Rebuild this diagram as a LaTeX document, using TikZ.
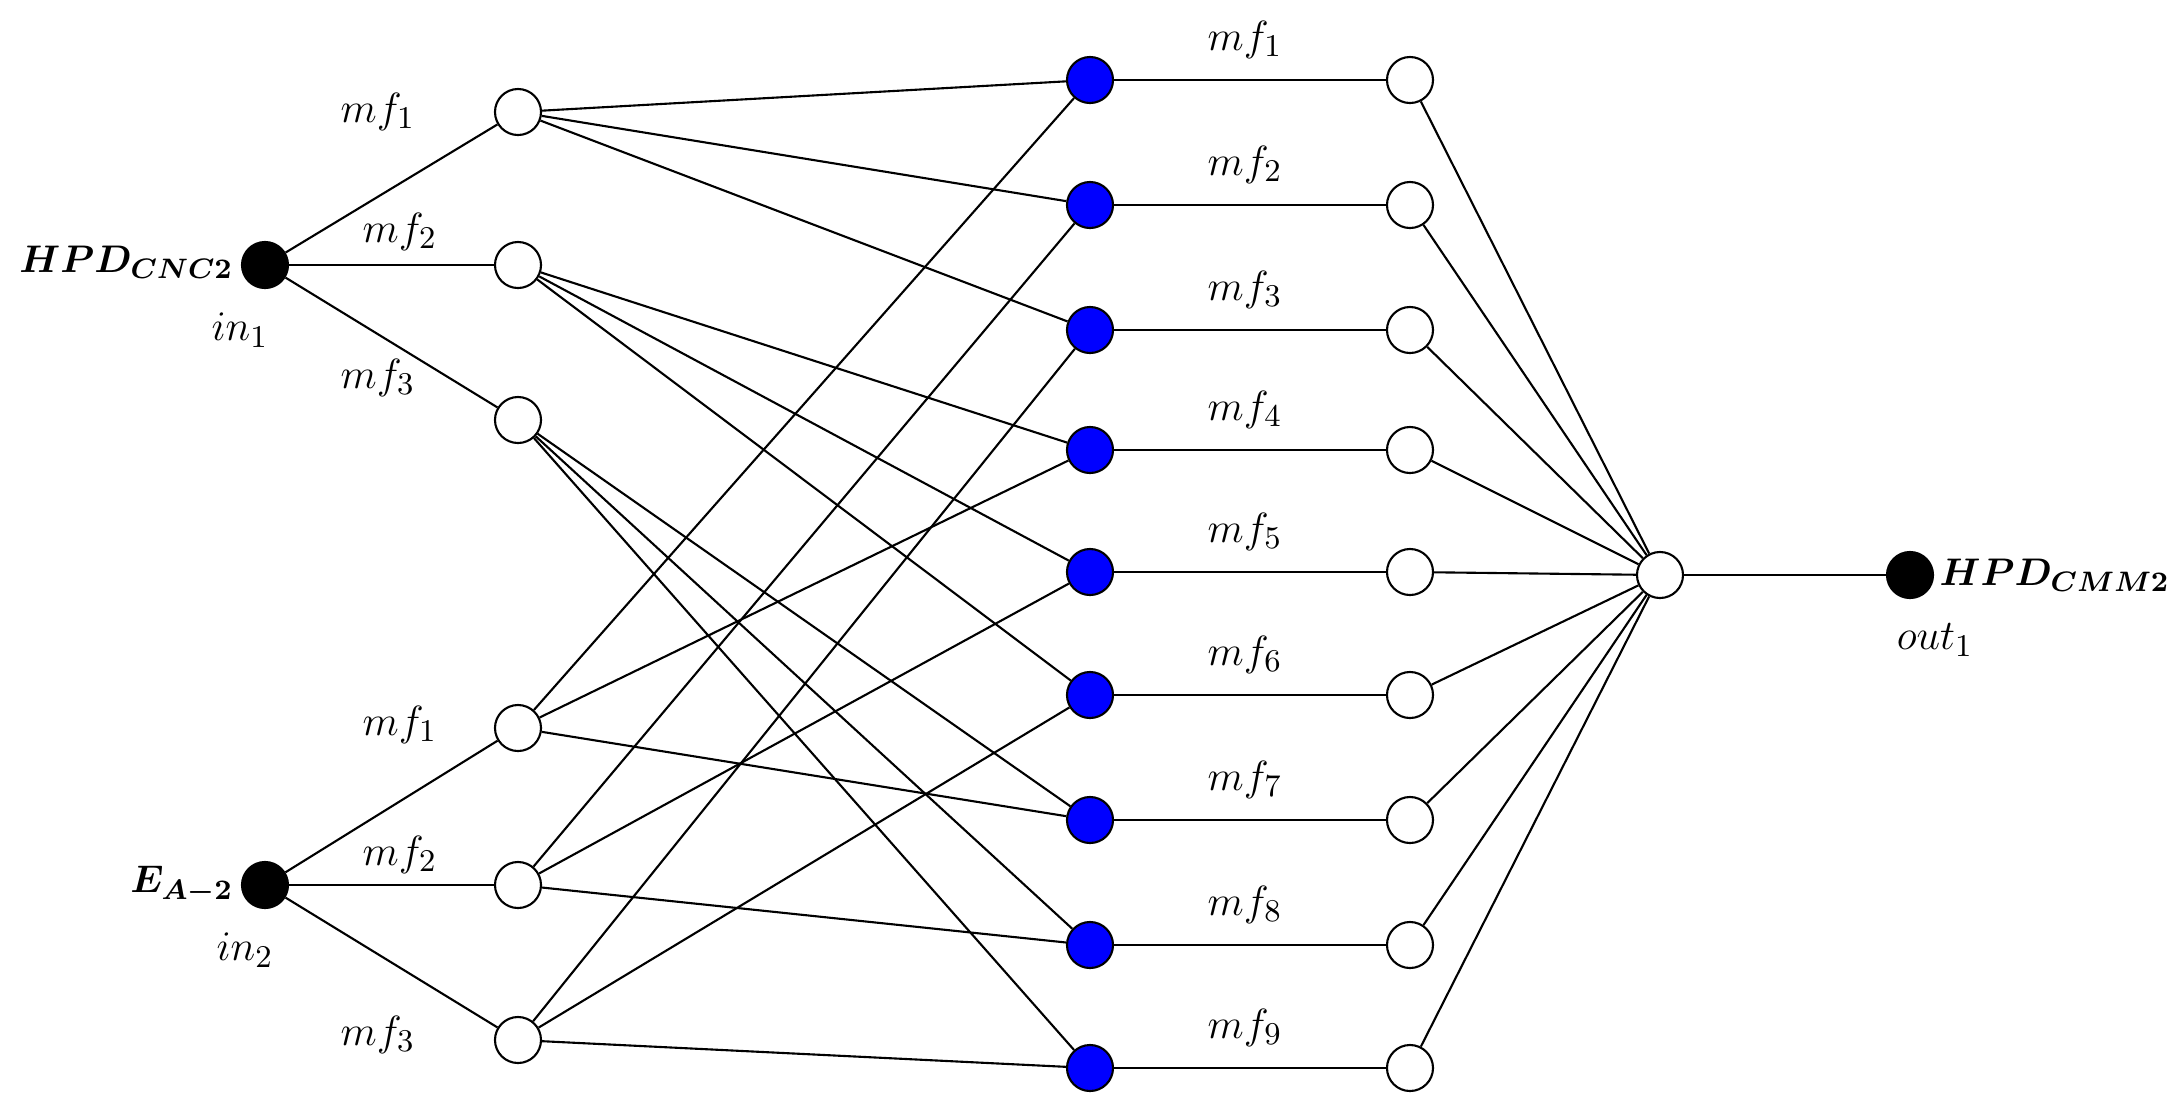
\documentclass[tikz,border=0pt]{standalone}
\usepackage{bm}
\begin{document}
\begin{tikzpicture}[x=0.01cm,y=-0.01cm,
  wn/.style={circle,draw,fill=white,minimum size=0.46cm,inner sep=0pt},
  bn/.style={circle,draw,fill=blue,minimum size=0.46cm,inner sep=0pt},
  kn/.style={circle,draw,fill=black,minimum size=0.46cm,inner sep=0pt},
  lb/.style={font=\fontsize{13}{15}\selectfont},
  bl/.style={font=\fontsize{11}{13}\selectfont,inner sep=1pt},
  every path/.style={line width=0.6pt}]
\useasboundingbox (0,0) rectangle (2181,1105);
\node[kn] (in1) at (265,265) {};
\node[kn] (in2) at (265,885) {};
\node[wn] (a1) at (518,112) {};
\node[wn] (a2) at (518,265) {};
\node[wn] (a3) at (518,420) {};
\node[wn] (b1) at (518,728) {};
\node[wn] (b2) at (518,885) {};
\node[wn] (b3) at (518,1040) {};
\foreach \k/\y in {1/80,2/205,3/330,4/450,5/572,6/695,7/820,8/945,9/1068}{
  \node[bn] (r\k) at (1090,\y) {};
  \node[wn] (w\k) at (1410,\y) {};
  \node[lb] (l\k) at (1245,\y-40) {$mf_{\k}$};
}
\node[wn] (s) at (1660,575) {};
\node[kn] (out) at (1910,575) {};
\foreach \a in {1,2,3}{\draw (in1)--(a\a); \draw (in2)--(b\a);}
\draw (a1)--(r1) (a1)--(r2) (a1)--(r3);
\draw (a2)--(r4) (a2)--(r5) (a2)--(r6);
\draw (a3)--(r7) (a3)--(r8) (a3)--(r9);
\draw (b1)--(r1) (b1)--(r4) (b1)--(r7);
\draw (b2)--(r2) (b2)--(r5) (b2)--(r8);
\draw (b3)--(r3) (b3)--(r6) (b3)--(r9);
\foreach \k in {1,...,9}{\draw (r\k)--(w\k); \draw (w\k)--(s);}
\draw (s)--(out);
\node[lb] (t1) at (378,112) {$mf_1$};
\node[lb] (t2) at (400,232) {$mf_2$};
\node[lb] (t3) at (378,378) {$mf_3$};
\node[lb] (t4) at (400,725) {$mf_1$};
\node[lb] (t5) at (400,855) {$mf_2$};
\node[lb] (t6) at (378,1035) {$mf_3$};
\node[bl,anchor=east] (h1) at (238,262) {$\bm{HPD_{CNC2}}$};
\node[lb] (i1) at (240,330) {$in_1$};
\node[bl,anchor=east] (h2) at (238,885) {$\bm{E_{A-2}}$};
\node[lb] (i2) at (245,950) {$in_2$};
\node[bl,anchor=west] (h3) at (1935,575) {$\bm{HPD_{CMM2}}$};
\node[lb] (o1) at (1935,640) {$out_1$};
\end{tikzpicture}
\end{document}
